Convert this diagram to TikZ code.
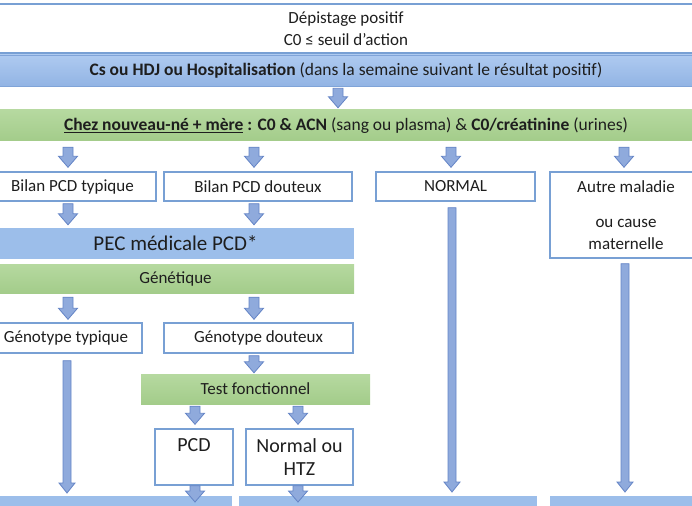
\documentclass[tikz,border=0pt]{standalone}
\usepackage{fontspec}
\setmainfont{Carlito}
\usetikzlibrary{calc}
\definecolor{boxline}{RGB}{120,160,212}
\definecolor{arrfill}{RGB}{143,170,220}
\definecolor{arrline}{RGB}{100,132,198}
\definecolor{bluetop}{RGB}{174,202,240}
\definecolor{bluebot}{RGB}{146,180,228}
\definecolor{blueedge}{RGB}{128,164,216}
\definecolor{pecblue}{RGB}{156,190,234}
\definecolor{greentop}{RGB}{182,217,160}
\definecolor{greenbot}{RGB}{163,204,138}
\definecolor{txt}{RGB}{30,30,30}
\begin{document}
\begin{tikzpicture}[x=1pt,y=-1pt,
  every node/.style={text=txt, font=\fontsize{17}{22}\selectfont, inner sep=0pt},
  wbox/.style={rectangle, draw=boxline, line width=1.4pt, fill=white, align=center},
  bband/.style={rectangle, top color=bluetop, bottom color=bluebot, draw=blueedge, line width=0.6pt, align=center},
  pband/.style={rectangle, fill=pecblue, align=center},
  gband/.style={rectangle, top color=greentop, bottom color=greenbot, align=center},
  barrow/.style n args={5}{to path={let \p1=(\tikztostart), \p2=(\tikztotarget) in
      (\x1-#1pt,\y1-#4pt) -- (\x1+#1pt,\y1-#4pt) -- (\x1+#1pt,\y2+#5pt+#3pt)
      -- (\x1+#2pt,\y2+#5pt+#3pt) -- (\x1,\y2+#5pt) -- (\x1-#2pt,\y2+#5pt+#3pt)
      -- (\x1-#1pt,\y2+#5pt+#3pt) -- cycle},
      fill=arrfill, draw=arrline, line width=0.8pt, line join=miter},
  sarrow/.style 2 args={barrow={5}{9.5}{11}{#1}{#2}},
  larrow/.style 2 args={barrow={4}{8}{10}{#1}{#2}}
]
\useasboundingbox (0,0) rectangle (692,505);

% top blocks
\node[wbox, minimum width=704pt, minimum height=49pt] (top) at (346,28.5)
  {Dépistage positif\\C0 ≤ seuil d’action};
\node[bband, minimum width=704pt, minimum height=31pt, font=\fontsize{17.5}{22}\selectfont] (blue1) at (346,70.5)
  {\textbf{Cs ou HDJ ou Hospitalisation} (dans la semaine suivant le résultat positif)};
\node[gband, minimum width=704pt, minimum height=31pt, font=\fontsize{17.5}{22}\selectfont] (green1) at (346,125.5)
  {\textbf{\underline{Chez nouveau-né + mère} : C0 \& ACN} (sang ou plasma) \& \textbf{C0/créatinine} (urines)};

% first row
\node[wbox, minimum width=167pt, minimum height=29pt] (b1) at (72.5,186.5) {Bilan PCD typique};
\node[wbox, minimum width=188pt, minimum height=29pt] (b2) at (258,186.5) {Bilan PCD douteux};
\node[wbox, minimum width=159pt, minimum height=29pt] (normal) at (455.5,186.5) {NORMAL};
\node[wbox, minimum width=152pt, minimum height=86pt] (autre) at (626,215)
  {Autre maladie\\[13pt]ou cause\\maternelle};

% PEC and genetics
\node[pband, minimum width=357pt, minimum height=31pt] (pec) at (175.5,243.5)
  {\fontsize{21}{25}\selectfont PEC médicale PCD*};
\node[gband, minimum width=357pt, minimum height=29pt] (gen) at (175.5,278.5) {Génétique};

\node[wbox, minimum width=152pt, minimum height=30pt] (gt) at (66,338) {Génotype typique};
\node[wbox, minimum width=189pt, minimum height=30pt] (gd) at (258.5,338) {Génotype douteux};
\node[gband, minimum width=229pt, minimum height=30pt] (tf) at (255.5,389) {Test fonctionnel};

\node[wbox, minimum width=78pt, minimum height=56pt, font=\fontsize{20}{23}\selectfont] (pcd) at (194,457) {PCD\\~};
\node[wbox, minimum width=107pt, minimum height=56pt, font=\fontsize{20}{23}\selectfont] (nh) at (299.5,457) {Normal ou\\HTZ};

% bottom bands (cut off)
\node[pband, minimum width=234pt, minimum height=30pt, anchor=north] (bot1) at (115,496) {};
\node[pband, minimum width=298pt, minimum height=30pt, anchor=north] (bot2) at (388,496) {};
\node[pband, minimum width=152pt, minimum height=30pt, anchor=north] (bot3) at (626,496) {};

% arrows
\draw[sarrow={2}{2}] (blue1.south -| 338,0) to (green1.north -| 338,0);
\draw[sarrow={6}{4}] (green1.south -| 68,0) to (b1.north -| 68,0);
\draw[sarrow={6}{4}] (green1.south -| 254,0) to (b2.north -| 254,0);
\draw[sarrow={6}{4}] (green1.south -| 451,0) to (normal.north -| 451,0);
\draw[sarrow={6}{4}] (green1.south -| 624,0) to (autre.north -| 624,0);
\draw[sarrow={2}{3}] (b1.south -| 68,0) to (pec.north -| 68,0);
\draw[sarrow={2}{3}] (b2.south -| 254,0) to (pec.north -| 254,0);
\draw[sarrow={4}{3}] (gen.south -| 68,0) to (gt.north -| 68,0);
\draw[sarrow={4}{3}] (gen.south -| 254,0) to (gd.north -| 254,0);
\draw[sarrow={2}{1}] (gd.south -| 254,0) to (tf.north -| 254,0);
\draw[sarrow={2}{4}] (tf.south -| 195,0) to (pcd.north -| 195,0);
\draw[sarrow={2}{4}] (tf.south -| 298,0) to (nh.north -| 298,0);
\draw[sarrow={0}{-6}] (pcd.south -| 195,0) to (bot1.north -| 195,0);
\draw[sarrow={0}{-6}] (nh.south -| 298,0) to (bot2.north -| 298,0);
\draw[larrow={7}{3}] (gt.south -| 67,0) to (bot1.north -| 67,0);
\draw[larrow={6}{4}] (normal.south -| 452,0) to (bot2.north -| 452,0);
\draw[larrow={5}{4}] (autre.south -| 625,0) to (bot3.north -| 625,0);
\end{tikzpicture}
\end{document}
